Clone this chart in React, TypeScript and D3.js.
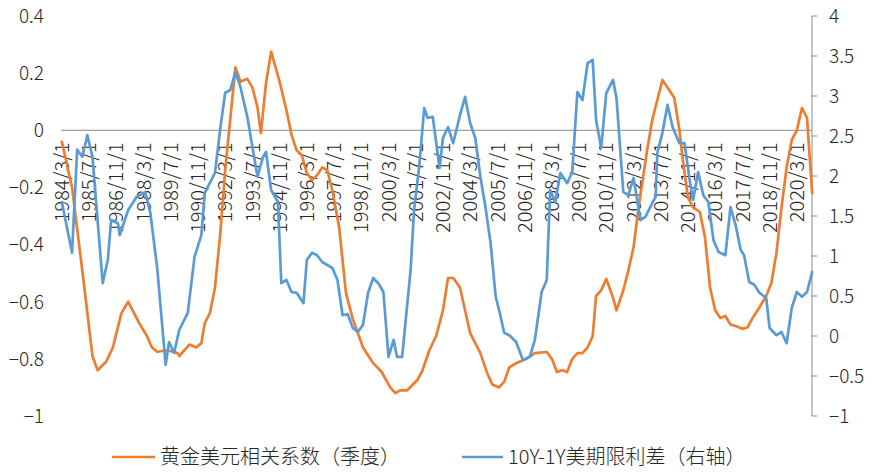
import React from 'react';
import * as d3 from 'd3';

// monthly category axis, 1984/3/1 .. 2020/12/1
const START_YEAR = 1984;
const START_MONTH = 3;
const MONTH_COUNT = 442;
const LABEL_EVERY = 16;

const categories: string[] = d3.range(MONTH_COUNT).map((i) => {
  const t = START_MONTH - 1 + i;
  return `${START_YEAR + Math.floor(t / 12)}/${(t % 12) + 1}/1`;
});

// [category index, value]
const goldUsdCorr: [number, number][] = [
  [0, -0.04], [6, -0.2], [12, -0.49], [18, -0.79], [21, -0.84], [26, -0.81], [30, -0.76],
  [35, -0.64], [39, -0.6], [45, -0.67], [50, -0.72], [53, -0.76], [56, -0.775], [62, -0.77],
  [68, -0.78], [69, -0.79], [75, -0.75], [79, -0.76], [82, -0.745], [84, -0.675], [87, -0.64],
  [90, -0.55], [93, -0.37], [96, -0.14], [99, 0.04], [102, 0.22], [105, 0.17], [109, 0.18],
  [112, 0.15], [115, 0.08], [117, -0.01], [120, 0.165], [123, 0.275], [128, 0.17], [132, 0.07],
  [135, -0.016], [138, -0.07], [141, -0.087], [144, -0.15], [147, -0.174], [150, -0.157],
  [153, -0.13], [156, -0.14], [159, -0.21], [163, -0.34], [167, -0.57], [171, -0.66],
  [177, -0.76], [183, -0.815], [188, -0.846], [193, -0.9], [196, -0.92], [199, -0.91],
  [203, -0.91], [209, -0.874], [212, -0.84], [216, -0.77], [220, -0.72], [224, -0.63],
  [227, -0.517], [230, -0.517], [234, -0.55], [237, -0.63], [240, -0.71], [246, -0.78],
  [250, -0.85], [253, -0.89], [257, -0.9], [260, -0.88], [263, -0.83], [267, -0.815],
  [273, -0.8], [278, -0.78], [285, -0.776], [288, -0.8], [291, -0.846], [294, -0.84],
  [297, -0.846], [300, -0.8], [303, -0.78], [306, -0.78], [309, -0.76], [312, -0.72],
  [314, -0.58], [317, -0.56], [320, -0.52], [324, -0.587], [326, -0.63], [330, -0.56],
  [333, -0.49], [336, -0.41], [339, -0.27], [342, -0.15], [344, -0.07], [347, 0.036],
  [350, 0.106], [353, 0.176], [356, 0.15], [360, 0.113], [363, 0.0], [365, -0.104],
  [368, -0.234], [371, -0.27], [375, -0.286], [378, -0.374], [381, -0.55], [384, -0.63],
  [387, -0.657], [390, -0.65], [393, -0.68], [396, -0.685], [400, -0.695], [403, -0.69],
  [406, -0.657], [410, -0.62], [414, -0.58], [417, -0.535], [420, -0.43], [423, -0.27],
  [426, -0.13], [429, -0.034], [432, 0.0], [435, 0.078], [438, 0.043], [441, -0.22],
];

const termSpread: [number, number][] = [
  [0, 1.675], [6, 1.04], [9, 2.33], [12, 2.24], [15, 2.51], [18, 2.24], [24, 0.66], [27, 0.95],
  [29, 1.45], [33, 1.41], [34, 1.26], [39, 1.575], [44, 1.74], [49, 1.8], [52, 1.54], [56, 0.86],
  [61, -0.36], [63, -0.075], [66, -0.21], [69, 0.075], [74, 0.29], [78, 0.99], [82, 1.26],
  [84, 1.79], [90, 2.04], [93, 2.575], [96, 3.04], [99, 3.075], [102, 3.3], [105, 3.11],
  [109, 2.74], [115, 1.99], [118, 2.225], [120, 2.3], [123, 1.825], [127, 1.675], [129, 0.66],
  [132, 0.7], [135, 0.55], [138, 0.54], [142, 0.41], [144, 0.95], [147, 1.04], [150, 1.01],
  [153, 0.925], [159, 0.85], [162, 0.7], [165, 0.26], [168, 0.275], [171, 0.1], [174, 0.05],
  [177, 0.14], [180, 0.54], [183, 0.725], [186, 0.66], [189, 0.55], [192, -0.26], [195, -0.05],
  [197, -0.26], [200, -0.26], [205, 0.825], [207, 1.575], [210, 2.11], [213, 2.85], [215, 2.725],
  [218, 2.74], [222, 2.1], [224, 2.475], [227, 2.61], [230, 2.41], [234, 2.76], [237, 2.99],
  [240, 2.66], [243, 2.475], [246, 1.99], [249, 1.61], [252, 1.16], [255, 0.49], [257, 0.325],
  [260, 0.04], [263, 0.01], [267, -0.075], [271, -0.3], [275, -0.26], [278, -0.05], [282, 0.55],
  [285, 0.7], [287, 1.825], [290, 1.675], [293, 2.04], [297, 1.91], [300, 2.05], [303, 3.05],
  [306, 2.95], [309, 3.41], [312, 3.45], [314, 2.7], [317, 2.35], [320, 3.04], [324, 3.2],
  [326, 2.975], [330, 1.8], [333, 1.76], [336, 1.975], [338, 1.725], [340, 1.45], [343, 1.49],
  [347, 1.66], [349, 1.74], [350, 2.29], [353, 2.54], [356, 2.89], [359, 2.61], [363, 2.41],
  [366, 2.41], [369, 1.95], [371, 1.7], [374, 2.05], [377, 1.76], [380, 1.675], [383, 1.2],
  [386, 1.05], [390, 1.01], [393, 1.61], [396, 1.39], [399, 1.075], [401, 1.01], [404, 0.675],
  [407, 0.64], [410, 0.54], [414, 0.475], [416, 0.1], [420, 0.01], [423, 0.05], [426, -0.09],
  [429, 0.35], [432, 0.55], [435, 0.49], [438, 0.55], [441, 0.8],
];

const leftTicks = [0.4, 0.2, 0, -0.2, -0.4, -0.6, -0.8, -1];
const rightTicks = [4, 3.5, 3, 2.5, 2, 1.5, 1, 0.5, 0, -0.5, -1];

const seriesNames = ['黄金美元相关系数（季度）', '10Y-1Y美期限利差（右轴）'];
const ORANGE = '#ED7D31';
const BLUE = '#5B9BD5';
const AXIS_GRAY = '#898989';
const TEXT = '#262626';
const FONT = '"Noto Sans CJK SC", "Noto Sans", sans-serif';

const W = 875;
const H = 474;
const plot = { left: 61, right: 813, top: 16, bottom: 416 };

const App: React.FC = () => {
  const x = d3.scaleBand<string>().domain(categories).range([plot.left, plot.right]).padding(0);
  const cx = (i: number) => (x(categories[i]) as number) + x.bandwidth() / 2;
  const yL = d3.scaleLinear().domain([-1, 0.4]).range([plot.bottom, plot.top]);
  const yR = d3.scaleLinear().domain([-1, 4]).range([plot.bottom, plot.top]);

  const goldLine = d3.line<[number, number]>().x((d) => cx(d[0])).y((d) => yL(d[1]));
  const spreadLine = d3.line<[number, number]>().x((d) => cx(d[0])).y((d) => yR(d[1]));

  const xLabels = categories.map((c, i) => ({ c, i })).filter((d) => d.i % LABEL_EVERY === 0);
  const axisY = yL(0);
  const axisX = plot.right - 1;

  return (
    <svg width={W} height={H} style={{ position: 'absolute', left: 0, top: 0, background: '#fff' }} fontFamily={FONT} fontWeight={300}>
      {/* category axis sits on the left-axis zero */}
      <line x1={plot.left} x2={axisX} y1={axisY} y2={axisY} stroke={AXIS_GRAY} strokeWidth={1} />

      {xLabels.map((d) => (
        <text
          key={d.c}
          transform={`translate(${cx(d.i)},${axisY + 12}) rotate(-90)`}
          textAnchor="end"
          dy="0.36em"
          fontSize={20}
          fill={TEXT}
        >
          {d.c}
        </text>
      ))}

      {leftTicks.map((t) => (
        <text key={t} x={44} y={yL(t)} dy="0.36em" textAnchor="end" fontSize={19} fill={TEXT}>
          {d3.format('~g')(t)}
        </text>
      ))}

      <line x1={axisX} x2={axisX} y1={plot.top} y2={plot.bottom} stroke={AXIS_GRAY} strokeWidth={1} />
      {rightTicks.map((t) => (
        <g key={t}>
          <line x1={axisX} x2={axisX + 5} y1={yR(t)} y2={yR(t)} stroke={AXIS_GRAY} strokeWidth={1} />
          <text x={829} y={yR(t)} dy="0.36em" fontSize={19} fill={TEXT}>
            {d3.format('~g')(t)}
          </text>
        </g>
      ))}

      <path d={goldLine(goldUsdCorr) ?? ''} fill="none" stroke={ORANGE} strokeWidth={2.7} strokeLinejoin="round" strokeLinecap="round" />
      <path d={spreadLine(termSpread) ?? ''} fill="none" stroke={BLUE} strokeWidth={2.7} strokeLinejoin="round" strokeLinecap="round" />

      {/* legend */}
      <line x1={112} x2={155} y1={457} y2={457} stroke={ORANGE} strokeWidth={2.7} />
      <text x={160} y={457} dy="0.36em" fontSize={20} fill={TEXT}>{seriesNames[0]}</text>
      <line x1={462} x2={503} y1={457} y2={457} stroke={BLUE} strokeWidth={2.7} />
      <text x={508} y={457} dy="0.36em" fontSize={20} fill={TEXT}>{seriesNames[1]}</text>
    </svg>
  );
};

export default App;
